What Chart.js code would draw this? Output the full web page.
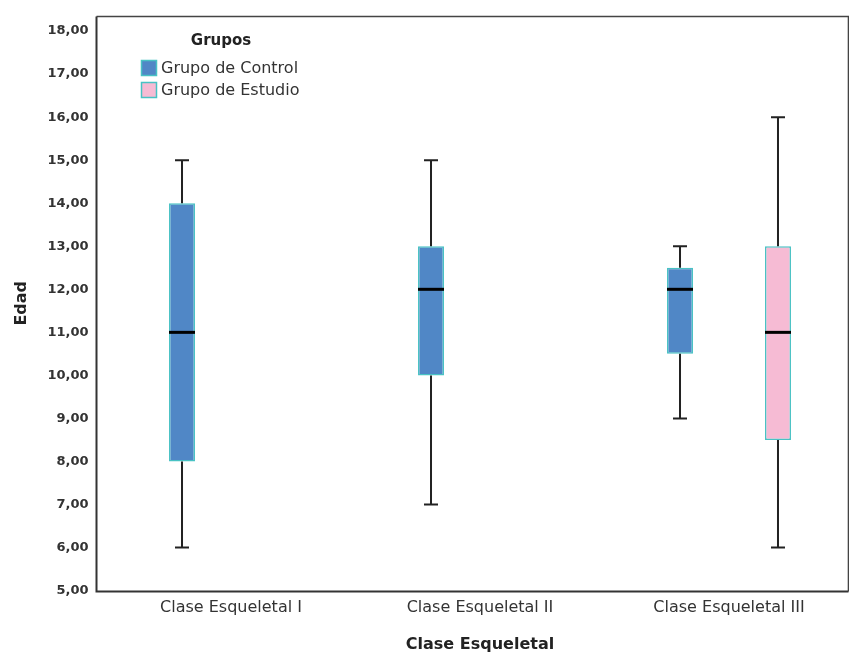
<!DOCTYPE html>
<html>
<head>
<meta charset="utf-8">
<script src="https://cdn.jsdelivr.net/npm/chart.js@4"></script>
<style>
  html, body { margin: 0; padding: 0; background: #fff; overflow: hidden; }
  #wrap { width: 860px; height: 652px; }
</style>
</head>
<body>
<div id="wrap"><canvas id="c"></canvas></div>
<script>
// Categories and box statistics (Edad por Clase Esqueletal)
const categories = ['Clase Esqueletal I', 'Clase Esqueletal II', 'Clase Esqueletal III'];

const controlMin    = [6, 7, 9];
const controlQ1     = [8, 10, 10.5];
const controlMedian = [11, 12, 12];
const controlQ3     = [14, 13, 12.5];
const controlMax    = [15, 15, 13];

const studyMin    = [null, null, 6];
const studyQ1     = [null, null, 8.5];
const studyMedian = [null, null, 11];
const studyQ3     = [null, null, 13];
const studyMax    = [null, null, 16];

const groupNames = ['Grupo de Control', 'Grupo de Estudio'];
const yTicks = [5, 6, 7, 8, 9, 10, 11, 12, 13, 14, 15, 16, 17, 18];

const fillColors = ['#5087c6', '#f6bbd4'];
const edgeColor = '#48c2c4';

const stats = [
  { min: controlMin, med: controlMedian, max: controlMax },
  { min: studyMin, med: studyMedian, max: studyMax }
];

function boxes(q1, q3) {
  return q1.map((v, i) => (v == null ? null : [v, q3[i]]));
}

// Whiskers, caps, medians, frame and legend drawn on top of the floating bars
const boxplotExtras = {
  id: 'boxplotExtras',
  afterDatasetsDraw(chart) {
    const ctx = chart.ctx;
    const y = chart.scales.y;
    ctx.save();
    chart.data.datasets.forEach((ds, di) => {
      const meta = chart.getDatasetMeta(di);
      const s = stats[di];
      meta.data.forEach((bar, i) => {
        if (ds.data[i] == null) return;
        const x = bar.x;
        const half = bar.width / 2;
        const [lo, hi] = ds.data[i];
        const yMin = y.getPixelForValue(s.min[i]);
        const yMax = y.getPixelForValue(s.max[i]);
        const yLo = y.getPixelForValue(lo);
        const yHi = y.getPixelForValue(hi);
        ctx.strokeStyle = '#222';
        ctx.lineWidth = 2;
        ctx.beginPath();
        ctx.moveTo(x, yHi); ctx.lineTo(x, yMax);
        ctx.moveTo(x, yLo); ctx.lineTo(x, yMin);
        ctx.moveTo(x - 7, yMax); ctx.lineTo(x + 7, yMax);
        ctx.moveTo(x - 7, yMin); ctx.lineTo(x + 7, yMin);
        ctx.stroke();
        const yMed = y.getPixelForValue(s.med[i]);
        ctx.strokeStyle = '#000';
        ctx.lineWidth = 3;
        ctx.beginPath();
        ctx.moveTo(x - half, yMed); ctx.lineTo(x + half, yMed);
        ctx.stroke();
      });
    });

    // plot frame
    const a = chart.chartArea;
    const fl = Math.round(a.left - 11) + 0.5, fr = Math.round(a.right - 6) + 0.5;
    const ft = Math.round(a.top) + 0.5, fb = Math.round(a.bottom) + 0.5;
    ctx.strokeStyle = '#444';
    ctx.lineWidth = 1.6;
    ctx.beginPath();
    ctx.moveTo(fl, ft); ctx.lineTo(fr, ft); ctx.lineTo(fr, fb);
    ctx.stroke();
    ctx.strokeStyle = '#333';
    ctx.lineWidth = 2;
    ctx.beginPath();
    ctx.moveTo(fl, ft); ctx.lineTo(fl, fb); ctx.lineTo(fr, fb);
    ctx.stroke();

    // legend
    ctx.fillStyle = '#222';
    ctx.font = 'bold 15px "DejaVu Sans"';
    ctx.textAlign = 'center';
    ctx.textBaseline = 'middle';
    ctx.fillText('Grupos', 221, 41);
    ctx.font = '16px "DejaVu Sans"';
    ctx.textAlign = 'left';
    groupNames.forEach((name, k) => {
      const top = 60 + k * 22;
      ctx.fillStyle = fillColors[k];
      ctx.fillRect(141, top, 16, 16);
      ctx.strokeStyle = edgeColor;
      ctx.lineWidth = 1.5;
      ctx.strokeRect(141.5, top + 0.5, 15, 15);
      ctx.fillStyle = '#333';
      ctx.fillText(name, 161, top + 9);
    });
    ctx.restore();
  }
};

new Chart(document.getElementById('c'), {
  type: 'bar',
  data: {
    labels: categories,
    datasets: [
      {
        label: groupNames[0],
        data: boxes(controlQ1, controlQ3),
        backgroundColor: fillColors[0],
        borderColor: edgeColor,
        borderWidth: 1.5,
        borderSkipped: false,
        categoryPercentage: 0.787,
        barPercentage: 0.265
      },
      {
        label: groupNames[1],
        data: boxes(studyQ1, studyQ3),
        backgroundColor: fillColors[1],
        borderColor: edgeColor,
        borderWidth: 1.5,
        borderSkipped: false,
        categoryPercentage: 0.787,
        barPercentage: 0.265
      }
    ]
  },
  options: {
    responsive: true,
    maintainAspectRatio: false,
    animation: false,
    layout: { padding: { top: 16, right: 6.5, left: 0, bottom: -2 } },
    plugins: { legend: { display: false }, tooltip: { enabled: false } },
    scales: {
      x: {
        grid: { display: false, drawTicks: false },
        border: { display: false },
        ticks: {
          padding: 8,
          color: '#333',
          font: { family: 'DejaVu Sans', size: 16 },
          maxRotation: 0
        },
        title: {
          display: true,
          text: 'Clase Esqueletal',
          color: '#222',
          font: { family: 'DejaVu Sans', size: 16, weight: 'bold' },
          padding: { top: 9, bottom: 0 }
        }
      },
      y: {
        min: 5,
        max: 18.35,
        afterFit(scale) {
          scale.width = 106.5;
          scale.paddingTop = 0;
          scale.paddingBottom = 0;
        },
        afterBuildTicks(scale) { scale.ticks = yTicks.map(v => ({ value: v })); },
        grid: { display: false, drawTicks: false },
        border: { display: false },
        ticks: {
          padding: 18,
          color: '#333',
          font: { family: 'DejaVu Sans', size: 13, weight: 'bold' },
          callback: v => v.toFixed(2).replace('.', ',')
        },
        title: {
          display: true,
          text: 'Edad',
          color: '#222',
          font: { family: 'DejaVu Sans', size: 16, weight: 'bold' },
          padding: { top: 12, bottom: 0 }
        }
      }
    }
  },
  plugins: [boxplotExtras]
});
</script>
</body>
</html>
